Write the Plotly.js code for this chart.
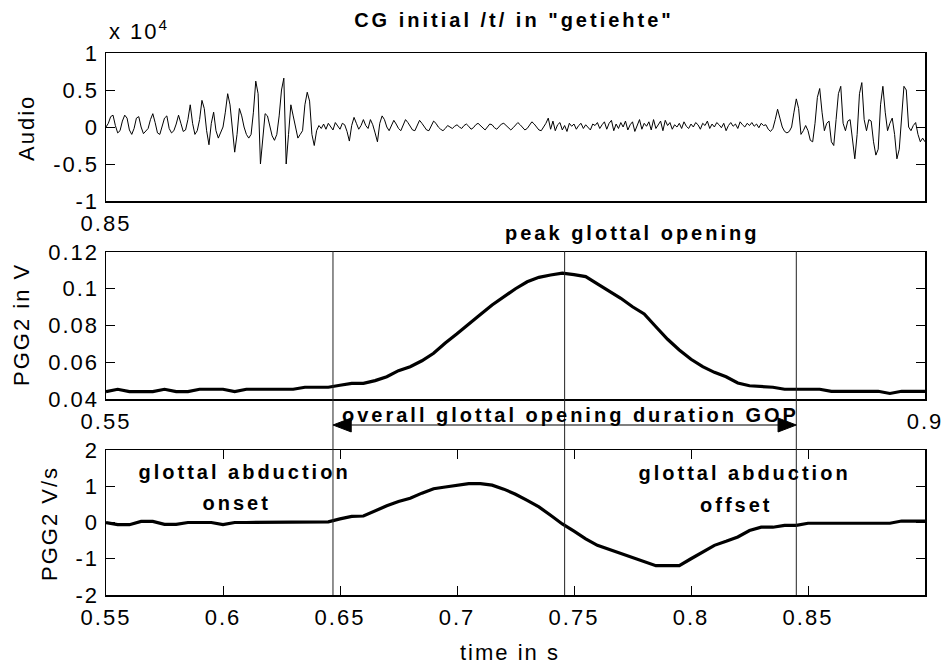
<!DOCTYPE html>
<html>
<head>
<meta charset="utf-8">
<script src="https://cdn.plot.ly/plotly-3.0.1.min.js"></script>
<style>
  html, body { margin: 0; padding: 0; background: #fff; }
  #fig { width: 942px; height: 664px; }
  text { letter-spacing: 2px; }
  text.annotation-text.bold-label, text.gtitle { letter-spacing: 3px; }
</style>
</head>
<body>
<div id="fig"></div>
<script>
// Audio waveform (units of 10^4), sampled every 1 ms from 0.55 s
const audioStart = 0.55;
const audioStep = 0.001;
const audio = [
  0.0, 0.05, 0.14, 0.16, 0.02, -0.08, -0.05, 0.08, 0.16, 0.12,
  -0.04, -0.1, -0.02, 0.12, 0.14, 0.0, -0.09, -0.06, -0.02, 0.1,
  0.18, 0.06, -0.08, -0.1, 0.02, 0.12, 0.15, -0.02, -0.08, -0.05,
  0.04, 0.16, 0.05, -0.06, -0.04, 0.1, 0.3, 0.05, -0.1, -0.05,
  0.1, 0.36, 0.25, -0.05, -0.24, 0.05, 0.2, -0.05, -0.15, -0.08,
  0.0, 0.2, 0.45, 0.3, -0.05, -0.34, -0.1, 0.25, 0.15, 0.0,
  -0.1, -0.15, -0.1, 0.2, 0.62, 0.45, -0.5, -0.2, 0.18, 0.15,
  0.0, -0.12, -0.18, -0.1, 0.15, 0.5, 0.66, -0.5, -0.1, 0.3,
  0.15, 0.0, -0.15, -0.1, -0.05, 0.3, 0.47, 0.35, -0.1, -0.25,
  -0.05, 0.02, -0.02, 0.04, -0.03, 0.05, 0.0, -0.04, 0.06, 0.02,
  -0.03, 0.05, 0.03, -0.06, -0.19, 0.02, 0.13, 0.05, -0.03, 0.02,
  0.1, 0.02, -0.02, 0.1, 0.03, -0.08, -0.2, 0.05, 0.15, 0.1,
  0.0, -0.05, 0.03, 0.09, 0.04, -0.02, -0.05, 0.02, 0.1, 0.06,
  0.0, -0.04, -0.05, 0.03, 0.09, 0.05, 0.0, -0.04, -0.05, 0.02,
  0.08, 0.05, 0.0, -0.03, -0.05, -0.02, 0.02, 0.0, -0.02, 0.01,
  0.03, 0.0, -0.02, 0.02, 0.04, 0.01, -0.03, -0.01, 0.03, 0.05,
  0.02, -0.02, -0.04, 0.0, 0.04, 0.03, -0.01, -0.03, 0.01, 0.04,
  0.05, 0.02, -0.02, -0.04, -0.01, 0.03, 0.06, 0.03, -0.01, -0.04,
  -0.02, 0.03, 0.07, 0.04, 0.0, -0.04, -0.05, 0.0, 0.05, 0.12,
  -0.03, 0.08, -0.05, 0.03, 0.06, -0.04, 0.02, -0.06, 0.05, 0.01,
  0.04, -0.03, 0.02, 0.05, -0.02, 0.03, 0.0, -0.04, 0.04, 0.02,
  0.06, -0.02, 0.03, 0.07, -0.03, 0.05, 0.09, -0.05, 0.04, -0.02,
  0.06, 0.0, 0.08, -0.04, 0.03, 0.07, -0.06, 0.02, 0.1, -0.03,
  0.05, 0.01, 0.07, -0.04, 0.1, -0.02, 0.04, 0.08, -0.05, 0.09,
  0.02, 0.06, -0.03, 0.03, 0.0, 0.05, -0.02, 0.07, 0.01, -0.02,
  0.04, 0.0, 0.06, 0.03, -0.03, 0.05, 0.02, 0.08, -0.02, 0.04,
  0.0, 0.06, 0.03, -0.01, 0.05, -0.05, 0.02, 0.06, 0.01, 0.04,
  -0.02, 0.07, 0.03, 0.0, 0.05, 0.02, 0.06, 0.01, 0.04, -0.01,
  0.05, 0.02, 0.03, -0.03, -0.06, -0.02, 0.1, 0.24, 0.12, 0.0,
  -0.06, -0.08, -0.06, 0.0, 0.2, 0.38, 0.25, -0.1, -0.05, 0.02,
  -0.05, -0.18, -0.2, 0.05, 0.4, 0.52, 0.2, -0.05, 0.05, 0.08,
  -0.2, -0.25, 0.1, 0.45, 0.55, 0.05, -0.05, 0.08, 0.1, -0.2,
  -0.43, -0.1, 0.45, 0.6, 0.1, -0.05, 0.1, 0.08, -0.2, -0.38,
  -0.3, 0.3, 0.55, 0.2, -0.05, 0.05, 0.12, -0.1, -0.43, -0.3,
  0.2, 0.55, 0.5, 0.0, -0.05, 0.02, 0.06, -0.1, -0.2, -0.15, -0.2
];

// Photoglottograph signal (V) and its velocity (V/s), every 5 ms from 0.55 s
const pggStart = 0.55;
const pggStep = 0.005;
const pggVolts = [
  0.044, 0.0453, 0.044, 0.044, 0.044, 0.0453, 0.044, 0.044, 0.0453, 0.0453,
  0.0453, 0.044, 0.0453, 0.0453, 0.0453, 0.0453, 0.0453, 0.0464, 0.0464, 0.0464,
  0.0475, 0.0485, 0.0485, 0.050, 0.0521, 0.0554, 0.0576, 0.0608, 0.0649, 0.0705,
  0.0755, 0.0805, 0.086, 0.0912, 0.0957, 0.1, 0.1038, 0.1062, 0.1075, 0.1085,
  0.1077, 0.1066, 0.1026, 0.0988, 0.0948, 0.0902, 0.0863, 0.0793, 0.0725, 0.0667,
  0.0616, 0.0576, 0.0545, 0.0521, 0.0487, 0.0472, 0.0467, 0.0464, 0.0453, 0.0453,
  0.0453, 0.0453, 0.0442, 0.0442, 0.0442, 0.0442, 0.0442, 0.043, 0.0442, 0.0442, 0.0442
];
const pggVelocity = [
  0.0, -0.06, -0.06, 0.03, 0.03, -0.05, -0.05, 0.0, 0.0, 0.0,
  -0.06, 0.0, 0.0, 0.0, 0.0, 0.0, 0.0, 0.0, 0.0, 0.02,
  0.1, 0.17, 0.18, 0.33, 0.46, 0.58, 0.67, 0.81, 0.93, 0.98,
  1.03, 1.07, 1.07, 1.03, 0.92, 0.78, 0.61, 0.43, 0.2, -0.04,
  -0.24, -0.45, -0.63, -0.74, -0.85, -0.96, -1.07, -1.19, -1.19, -1.19,
  -1.0, -0.82, -0.63, -0.52, -0.4, -0.22, -0.13, -0.13, -0.08, -0.08,
  -0.02, -0.02, -0.02, -0.02, -0.02, -0.02, -0.02, -0.02, 0.04, 0.04, 0.04
];

// Event times: abduction onset, peak opening, abduction offset
const eventTimes = [0.647, 0.746, 0.845];

// Axis ticks
const timeRange = [0.55, 0.9];
const audioTicks = [-1, -0.5, 0, 0.5, 1];
const audioTickText = ['-1', '-0.5', '0', '0.5', '1'];
const voltTicks = [0.04, 0.06, 0.08, 0.1, 0.12];
const voltTickText = ['0.04', '0.06', '0.08', '0.1', '0.12'];
const velTicks = [-2, -1, 0, 1, 2];
const velTickText = ['-2', '-1', '0', '1', '2'];
const timeTicks = [0.55, 0.6, 0.65, 0.7, 0.75, 0.8, 0.85];
const timeTickText = ['0.55', '0.6', '0.65', '0.7', '0.75', '0.8', '0.85'];

const FONT = 'Liberation Sans, Arial, sans-serif';
const W = 942, H = 664;
const px = v => v / W;
const py = v => 1 - v / H;

const xDomain = [px(106), px(925)];

const baseAxis = {
  showline: true, linecolor: '#000', linewidth: 1.5,
  showgrid: false, zeroline: false,
  tickfont: { family: FONT, size: 22, color: '#000' },
  ticklabeloverflow: 'allow'
};

const traces = [
  { x0: audioStart, dx: audioStep, y: audio, xaxis: 'x', yaxis: 'y',
    type: 'scatter', mode: 'lines', line: { color: '#000', width: 1 }, hoverinfo: 'skip' },
  { x0: pggStart, dx: pggStep, y: pggVolts, xaxis: 'x2', yaxis: 'y2',
    type: 'scatter', mode: 'lines', line: { color: '#000', width: 3.2 }, hoverinfo: 'skip' },
  { x0: pggStart, dx: pggStep, y: pggVelocity, xaxis: 'x3', yaxis: 'y3',
    type: 'scatter', mode: 'lines', line: { color: '#000', width: 3.2 }, hoverinfo: 'skip' }
];

const boldFont = { family: FONT, size: 20, color: '#000', weight: 'bold' };
const plainFont = { family: FONT, size: 22, color: '#000' };

function label(text, x, y, font, extra) {
  return Object.assign({ text, x: px(x), y: py(y), xref: 'paper', yref: 'paper',
    showarrow: false, font, xanchor: 'center', yanchor: 'middle' }, extra || {});
}

const annotations = [
  label('x 10<sup>4</sup>', 107, 30, plainFont, { xanchor: 'left' }),
  label('peak glottal opening', 632, 233, boldFont),
  label('overall glottal opening duration GOP', 570, 415, boldFont),
  label('glottal abduction', 244, 472, boldFont),
  label('onset', 236, 503, boldFont),
  label('glottal abduction', 744, 473, boldFont),
  label('offset', 736, 505, boldFont),
  label('time in s', 510, 652, plainFont),
  label('Audio', 27, 128, plainFont, { textangle: -90 }),
  label('PGG2 in V', 21, 325, plainFont, { textangle: -90 }),
  label('PGG2 V/s', 49, 524, plainFont, { textangle: -90 })
];

// event markers spanning the two lower panels
const shapes = eventTimes.map(t => ({
  type: 'line', xref: 'x3', yref: 'paper', x0: t, x1: t, y0: py(595), y1: py(251),
  line: { color: '#222', width: 1 }
}));

// double-headed arrow for the opening duration
const arrowY = py(425);
const headLen = 0.0078, headHalf = 0.0105;
const tStart = eventTimes[0], tEnd = eventTimes[2];
shapes.push(
  { type: 'line', xref: 'x3', yref: 'paper', x0: tStart + headLen, x1: tEnd - headLen,
    y0: arrowY, y1: arrowY, line: { color: '#000', width: 1.2 } },
  { type: 'path', xref: 'x3', yref: 'paper',
    path: `M ${tStart},${arrowY} L ${tStart + headLen},${arrowY + headHalf} L ${tStart + headLen},${arrowY - headHalf} Z`,
    fillcolor: '#000', line: { color: '#000', width: 1 } },
  { type: 'path', xref: 'x3', yref: 'paper',
    path: `M ${tEnd},${arrowY} L ${tEnd - headLen},${arrowY + headHalf} L ${tEnd - headLen},${arrowY - headHalf} Z`,
    fillcolor: '#000', line: { color: '#000', width: 1 } }
);

const layout = {
  width: W, height: H,
  margin: { l: 0, r: 0, t: 0, b: 0 },
  paper_bgcolor: '#fff', plot_bgcolor: '#fff',
  showlegend: false,
  font: { family: FONT, color: '#000' },
  title: { text: 'CG initial /t/ in "getiehte"', x: px(514), y: py(20),
    xanchor: 'center', yanchor: 'middle', xref: 'paper', yref: 'paper', font: boldFont },
  xaxis: Object.assign({}, baseAxis, { domain: xDomain, range: timeRange, anchor: 'y',
    mirror: true, ticks: '', tickmode: 'array', tickvals: [0.55], ticktext: ['0.85'],
    ticklabelstandoff: 2 }),
  yaxis: Object.assign({}, baseAxis, { domain: [py(201), py(53)], range: [-1, 1], anchor: 'x',
    mirror: 'ticks', ticks: 'inside', ticklen: 9, tickcolor: '#000', tickwidth: 1,
    tickmode: 'array', tickvals: audioTicks, ticktext: audioTickText, ticklabelstandoff: 1 }),
  xaxis2: Object.assign({}, baseAxis, { domain: xDomain, range: timeRange, anchor: 'y2',
    mirror: true, ticks: '', tickmode: 'array', tickvals: [0.55, 0.9], ticktext: ['0.55', '0.9'],
    ticklabelstandoff: 2 }),
  yaxis2: Object.assign({}, baseAxis, { domain: [py(399), py(252)], range: [0.04, 0.12], anchor: 'x2',
    mirror: 'ticks', ticks: 'inside', ticklen: 9, tickcolor: '#000', tickwidth: 1,
    tickmode: 'array', tickvals: voltTicks, ticktext: voltTickText, ticklabelstandoff: 1 }),
  xaxis3: Object.assign({}, baseAxis, { domain: xDomain, range: timeRange, anchor: 'y3',
    mirror: 'ticks', ticks: 'inside', ticklen: 9, tickcolor: '#000', tickwidth: 1,
    tickmode: 'array', tickvals: timeTicks, ticktext: timeTickText, ticklabelstandoff: 2 }),
  yaxis3: Object.assign({}, baseAxis, { domain: [py(595), py(450)], range: [-2, 2], anchor: 'x3',
    mirror: 'ticks', ticks: 'inside', ticklen: 9, tickcolor: '#000', tickwidth: 1,
    tickmode: 'array', tickvals: velTicks, ticktext: velTickText, ticklabelstandoff: 1 }),
  annotations, shapes
};

Plotly.newPlot('fig', traces, layout, { staticPlot: true, displayModeBar: false }).then(gd => {
  // wider tracking for the bold labels
  gd.querySelectorAll('text.annotation-text').forEach(node => {
    if (node.style.fontWeight === 'bold' || node.style.fontWeight === '700') {
      node.classList.add('bold-label');
    }
  });
});
</script>
</body>
</html>
